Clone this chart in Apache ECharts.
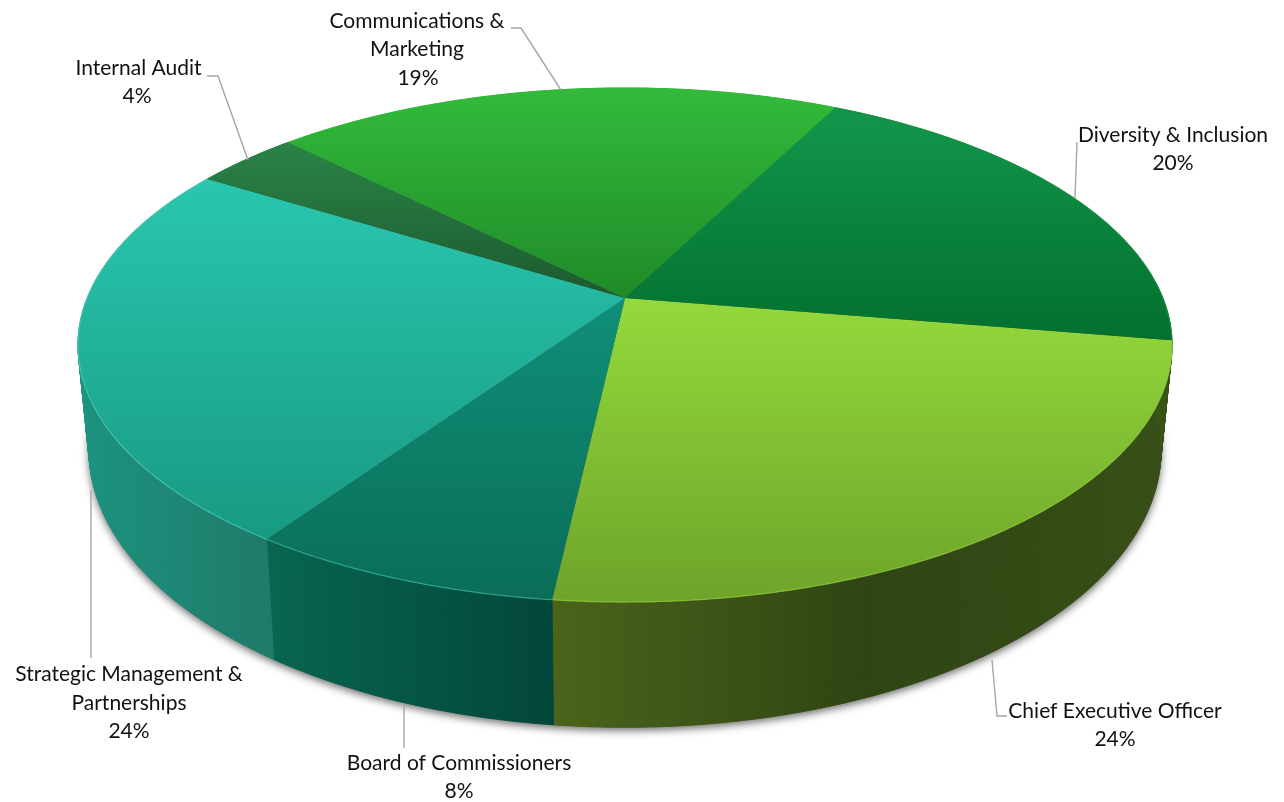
<!DOCTYPE html>
<html><head><meta charset="utf-8">
<style>html,body{margin:0;padding:0;background:#fff}#c{width:1284px;height:802px}</style>
<script src="https://cdn.jsdelivr.net/npm/echarts@6/dist/echarts.min.js"></script>
</head><body><div id="c"></div>
<script>
const categories = ['Chief Executive Officer','Board of Commissioners','Strategic Management & Partnerships','Internal Audit','Communications & Marketing','Diversity & Inclusion'];
const values = [23.5, 7.6, 23.6, 3.6, 19.49, 19.6];
const labelLines = [['Chief Executive Officer'],['Board of Commissioners'],['Strategic Management &','Partnerships'],['Internal Audit'],['Communications &','Marketing'],['Diversity & Inclusion']];

const topColors = [['#93da3b','#6ea32a'],['#108f78','#0a6d58'],['#2ac6b0','#189a82'],['#2b8348','#1c5a2e'],['#33bb3b','#1f8a28'],['#12964b','#03702e']];
const sideStops = [[[0,'#4b641a'],[0.5,'#2f4513'],[1,'#374f17']],[[0,'#086650'],[1,'#02463a']],[[0,'#1b9480'],[1,'#1f7a69']],[[0,'#1d5c30'],[1,'#1d5c30']],[[0,'#1f8a28'],[1,'#1f8a28']],[[0,'#3a5415'],[1,'#3a5415']]];
const rimColors = ['#8fd03c','#35b39c','#4ac9b2','#2b8348','#33bb3b','#12964b'];
const labelLayout = [
  {x:1115,y:[711,739],pct:1115,line:[[992,660],[997,716],[1007,716]]},
  {x:459,y:[763,791],pct:459,line:[[404,705],[404,748]]},
  {x:129,y:[674,703,731],pct:129,line:[[91,490],[91,658]]},
  {x:138.5,y:[68,96],pct:137,line:[[207,76],[218,76],[248,160]]},
  {x:417,y:[21,49,78],pct:418,line:[[511,28],[521,28],[561,90]]},
  {x:1173,y:[135,163],pct:1173,line:[[1077,142],[1075,198]]}
];

const APEX = {x:625,y:298}, RX = 537.8, RY = 248.4, PERSP = 0.183;
const BOTTOM = {sx:0.98, sy:1.08, dy:101};
const START_DEG = 9.5;

const total = values.reduce((a,b)=>a+b,0);
function spanOf(i){
  let s = START_DEG;
  for(let k=0;k<i;k++) s += values[k]/total*360;
  return [s, s + values[i]/total*360];
}
function topPt(deg){
  const t = deg*Math.PI/180, u = Math.cos(t), v = Math.sin(t), w = 1 - PERSP*v;
  return [APEX.x + RX*u/w, APEX.y + RY*v/w];
}
function botPt(deg){
  const p = topPt(deg);
  return [APEX.x + (p[0]-APEX.x)*BOTTOM.sx, APEX.y + BOTTOM.dy + (p[1]-APEX.y)*BOTTOM.sy];
}
function arc(a,b,fn){
  const pts=[], n=Math.max(2,Math.ceil((b-a)*2));
  for(let j=0;j<=n;j++) pts.push(fn(a+(b-a)*j/n));
  return pts;
}
function grad(c,horizontal){
  return {type:'linear',x:0,y:0,x2:horizontal?1:0,y2:horizontal?0:1,colorStops:[{offset:0,color:c[0]},{offset:1,color:c[1]}]};
}
const seriesData = categories.map((n,i)=>({name:n,value:values[i]}));
const none = {coordinateSystem:'none',silent:true,animation:false,data:seriesData};

const option = {
  backgroundColor:'#fff',
  series:[
    Object.assign({},none,{type:'custom',z:1,renderItem(p){
      if(p.dataIndex!==0) return {type:'group',children:[]};
      return {type:'polygon',shape:{points:arc(0,360,botPt)},style:{fill:'#555',shadowBlur:9,shadowColor:'rgba(0,0,0,0.6)',shadowOffsetX:0,shadowOffsetY:3}};
    }}),
    Object.assign({},none,{type:'custom',z:2,renderItem(p,api){
      const i=p.dataIndex; api.value(0);
      const s=spanOf(i), top=arc(s[0],s[1],topPt), bot=arc(s[0],s[1],botPt);
      const xs=top.concat(bot).map(q=>q[0]), x0=Math.min.apply(null,xs), x1=Math.max.apply(null,xs);
      const fill={type:'linear',global:true,x:x0,y:0,x2:x1,y2:0,colorStops:sideStops[i].map(a=>({offset:a[0],color:a[1]}))};
      const kids=[];
      for(let j=0;j<top.length-1;j++){
        kids.push({type:'polygon',shape:{points:[top[j],top[j+1],bot[j+1],bot[j]]},style:{fill:fill,stroke:fill,lineWidth:0.8}});
      }
      return {type:'group',children:kids};
    }}),
    Object.assign({},none,{type:'custom',z:3,renderItem(p,api){
      const i=p.dataIndex; api.value(0);
      const s=spanOf(i), rim=arc(s[0],s[1],topPt);
      return {type:'group',children:[
        {type:'polygon',shape:{points:[[APEX.x,APEX.y]].concat(rim)},style:{fill:grad(topColors[i],false)}},
        {type:'polyline',shape:{points:rim},style:{fill:'none',stroke:rimColors[i],lineWidth:1.2,opacity:0.8}}
      ]};
    }}),
    Object.assign({},none,{type:'custom',z:4,renderItem(p,api){
      const i=p.dataIndex, L=labelLayout[i], lines=labelLines[i];
      const pct=Math.round(api.value(0))+'%';
      const kids=[{type:'polyline',shape:{points:L.line},style:{fill:'none',stroke:'#a6a6a6',lineWidth:1.4}}];
      lines.forEach((t,k)=>kids.push({type:'text',style:{text:t,x:L.x,y:L.y[k],align:'center',verticalAlign:'middle',fill:'#111',font:'21px Lato'}}));
      kids.push({type:'text',style:{text:pct,x:L.pct,y:L.y[lines.length],align:'center',verticalAlign:'middle',fill:'#111',font:'21px Lato'}});
      return {type:'group',children:kids};
    }})
  ]
};
const chart = echarts.init(document.getElementById('c'),null,{renderer:'canvas'});
const cv = document.querySelector('#c canvas');
if(cv){ cv.getContext('2d').letterSpacing='0.9px'; }
chart.setOption(option);
</script></body></html>
